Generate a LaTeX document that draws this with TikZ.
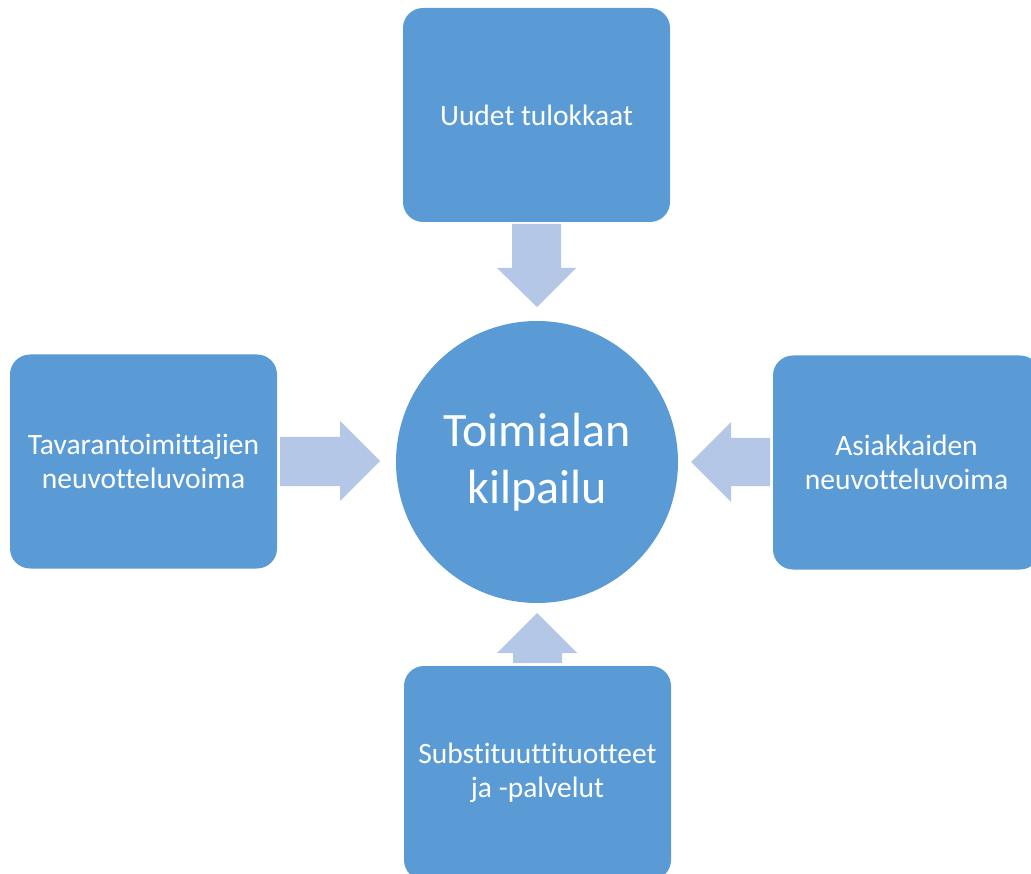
\documentclass[tikz,border=0pt]{standalone}
\usepackage{fontspec}
\setmainfont{Carlito}[Ligatures={NoCommon}]
\definecolor{boxblue}{HTML}{5B9BD5}
\definecolor{arrowblue}{HTML}{B4C7E7}
\begin{document}
\begin{tikzpicture}[x=1pt,y=-1pt,
  forcebox/.style={fill=boxblue,draw=none,rounded corners=20pt,text=white,align=center,
    minimum width=267pt,minimum height=214pt,inner sep=0pt,
    font=\fontsize{29.5}{34}\selectfont},
  blockarrow/.style={fill=arrowblue,draw=none}]
\useasboundingbox (0,0) rectangle (1031,874);
\clip (0,0) rectangle (1031,874);
% boxes
\node[forcebox] (top) at (536.5,115) {Uudet tulokkaat};
\node[forcebox] (left) at (143.5,461.5) {Tavarantoimittajien\\neuvotteluvoima};
\node[forcebox] (right) at (906.5,462.5) {Asiakkaiden\\neuvotteluvoima};
\node[forcebox] (bottom) at (537.5,773) {Substituuttituotteet\\ja -palvelut};
% circle
\node[circle,fill=boxblue,minimum size=282pt,inner sep=0pt,text=white,align=center,
  font=\fontsize{48}{57}\selectfont] (centre) at (537,462) {Toimialan\\kilpailu};
% arrows
\fill[blockarrow] (512,224) -- (561,224) -- (561,268) -- (576,268) -- (537,307) -- (497,268) -- (512,268) -- cycle;
\fill[blockarrow] (280,437) -- (340,437) -- (340,421) -- (380,461) -- (340,501) -- (340,486) -- (280,486) -- cycle;
\fill[blockarrow] (770,438) -- (731,438) -- (731,422) -- (691,462) -- (731,502) -- (731,486) -- (770,486) -- cycle;
\fill[blockarrow] (513,663) -- (513,653) -- (497,653) -- (537,613) -- (577,653) -- (562,653) -- (562,663) -- cycle;
\end{tikzpicture}
\end{document}
